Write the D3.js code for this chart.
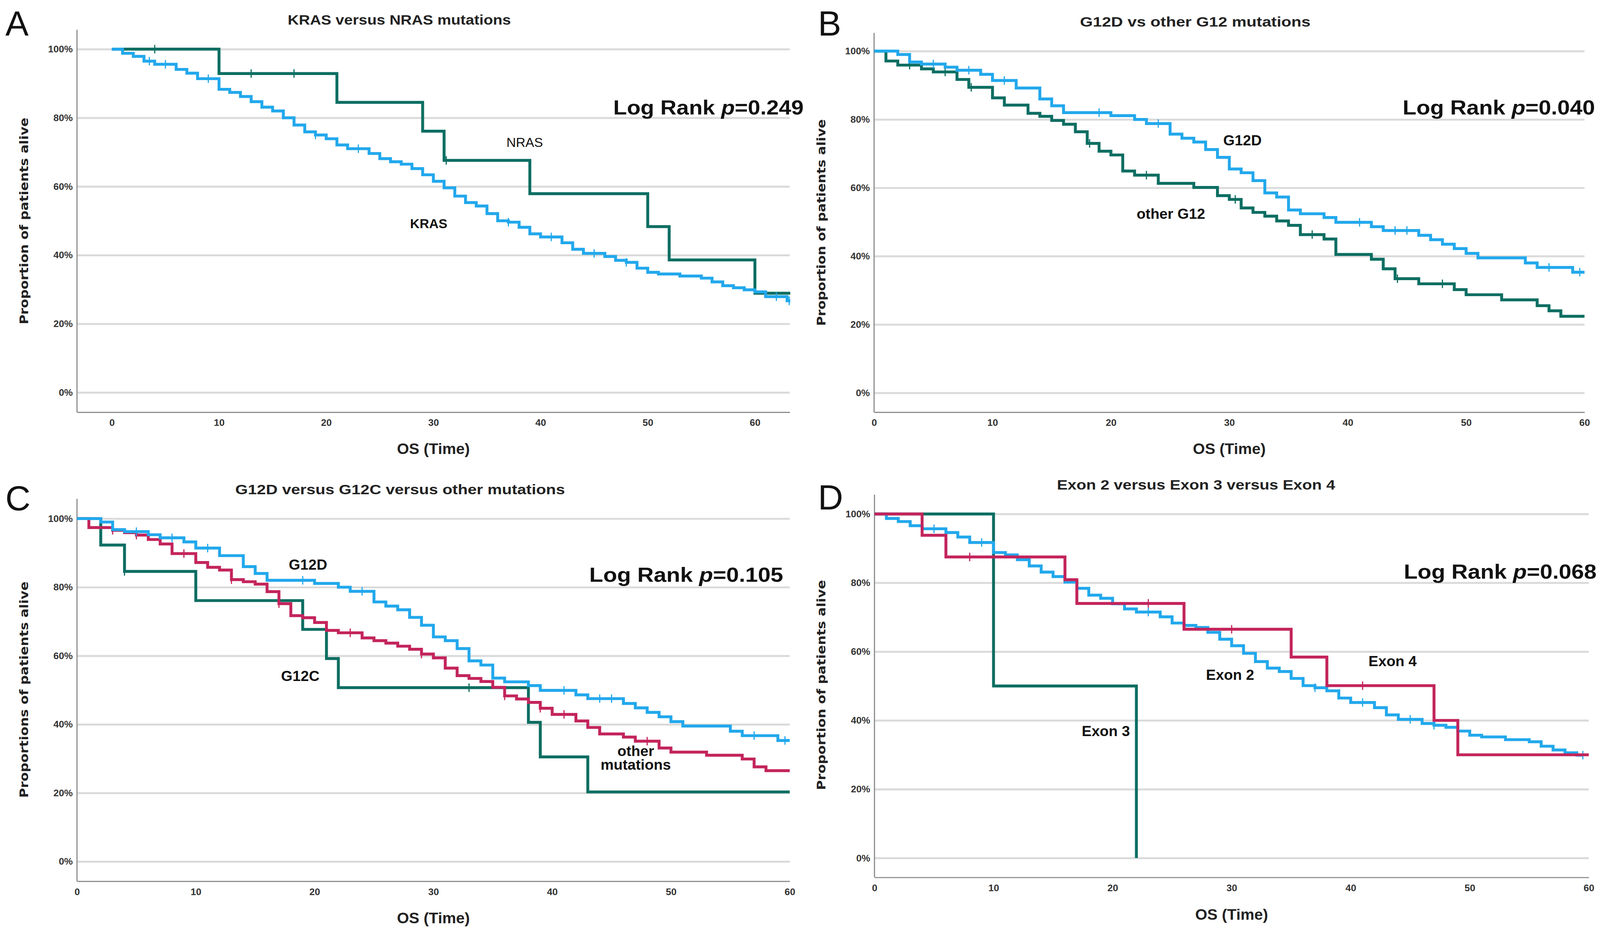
<!DOCTYPE html>
<html>
<head>
<meta charset="utf-8">
<script src="https://cdnjs.cloudflare.com/ajax/libs/d3/7.8.5/d3.min.js"></script>
<style>
html, body { margin: 0; padding: 0; background: #fff; overflow: hidden; }
svg { display: block; width: 100vw; height: 100vh; }
</style>
</head>
<body>
<script>
var width = 4135;
var height = 2411;

// ------- data ------------------------------

var yTicks = [0, 20, 40, 60, 80, 100];
var xTicks = [0, 10, 20, 30, 40, 50, 60];

// panel A
var krasTime = [0,1,2,3,4,6,7,8,10,11,12,13,14,15,16,17,18,19,20,21,22,24,25,26,27,28,29,30,31,32,33,34,35,36,37,38,39,40,42,43,44,46,47,48,49,50,51,53,55,56,57,58,59,60,61,63];
var krasSurv = [100,98.8,97.9,96.5,95.6,94.1,93.0,91.4,88.3,87.4,86.2,84.7,83.1,82.0,80.0,77.9,75.9,75.0,73.9,72.1,71.0,69.6,68.1,67.2,66.5,65.2,63.4,61.5,59.6,57.2,55.3,54.3,52.1,50.0,49.6,48.1,46.2,45.3,43.6,41.7,40.5,39.6,38.5,37.9,36.2,35.0,34.5,33.9,33.3,32.2,31.1,30.5,29.9,29.3,27.9,26.7];
var krasCens = [3.5, 5, 9, 19, 23, 37, 41, 45, 48, 62, 63.2];
var krasEnd = 63.3;

var nrasTime = [0, 10, 21, 29, 31, 39, 50, 52, 60];
var nrasSurv = [100, 92.9, 84.5, 76.1, 67.6, 57.9, 48.3, 38.6, 28.9];
var nrasCens = [4, 13, 17, 31.2];
var nrasEnd = 63.3;

// panel B and C (G12D is the same group in both)
var g12dTime = [0,2,3,4,6,7,9,10,12,14,15,16,20,22,23,25,26,27,28,29,30,31,32,33,34,35,36,38,39,42,43,46,47,48,49,50,51,55,56,59];
var g12dSurv = [100,99.0,96.8,96.2,95.3,94.4,93.2,91.4,89.2,86.0,84.0,82.0,81.1,80.0,78.8,75.7,74.5,73.4,71.2,68.9,65.5,64.4,62.1,58.5,57.3,53.5,52.4,51.3,49.9,48.6,47.5,46.1,44.8,43.5,42.2,40.8,39.5,38.0,36.7,35.3];
var g12dCens = [5, 8, 11, 19, 24, 41, 44, 45, 57, 59.6];
var g12dEnd = 60;

var otherG12Time = [0,1,2,4,5,7,8,10,11,13,14,15,16,17,18,19,20,21,22,24,27,29,30,31,32,33,34,35,36,38,39,42,43,44,46,49,50,53,56,57,58];
var otherG12Surv = [100,97.1,95.9,94.8,93.9,91.7,89.4,86.3,84.2,81.8,80.9,79.7,78.6,76.4,73.0,70.7,69.6,64.9,63.7,61.3,60.1,57.7,56.6,54.1,52.8,51.7,50.3,49.0,46.3,45.0,40.5,39.1,36.3,33.4,31.9,30.2,28.7,27.2,25.5,24.0,22.4];
var otherG12Cens = [3, 6, 8.2, 18.2, 23, 30.5, 37, 44.2, 48];
var otherG12End = 60;

// panel C
var g12cTime = [0, 2, 4, 10, 19, 21, 22, 38, 39, 43];
var g12cSurv = [100, 92.3, 84.6, 76.1, 67.7, 59.2, 50.7, 40.6, 30.5, 20.3];
var g12cCens = [4, 33];
var g12cEnd = 60;

var otherMutTime = [0,1,3,4,5,6,7,8,10,11,12,13,14,15,16,17,18,19,20,21,22,24,25,26,27,28,29,30,31,32,33,34,35,36,37,38,39,40,42,43,44,46,47,49,50,53,56,57,58];
var otherMutSurv = [100,97.4,96.6,95.9,95.2,93.9,92.6,89.8,87.2,85.8,85.0,82.2,81.6,80.9,78.7,75.2,71.7,71.1,69.7,67.4,66.7,65.2,64.4,63.7,62.8,61.9,60.5,59.4,56.4,54.2,53.4,52.5,50.8,48.3,47.4,46.4,44.7,42.9,41.0,39.1,37.2,36.3,35.1,33.1,31.9,31.0,29.9,27.6,26.5];
var otherMutCens = [3, 5, 9, 13, 17, 23, 29, 36, 39, 41, 48];
var otherMutEnd = 60;

// panel D
var exon2Time = [0,1,2,3,4,6,7,8,10,11,12,13,14,15,16,17,18,19,20,21,22,24,25,26,27,28,29,30,31,32,33,34,35,36,37,38,39,40,42,43,44,46,47,48,49,50,51,53,55,56,57,58,59];
var exon2Surv = [100,98.7,97.8,96.6,95.7,94.6,93.3,91.7,88.8,88.1,86.7,84.9,83.1,81.8,80.2,78.4,76.4,75.5,73.9,72.4,71.5,70.1,68.3,67.6,67.0,65.6,63.6,61.7,59.5,57.1,55.2,54.2,52.2,50.1,49.5,48.6,46.5,45.2,43.7,41.6,40.3,39.1,38.6,38.0,36.9,35.7,35.2,34.4,33.8,32.5,31.4,30.6,29.9];
var exon2Cens = [5, 9, 23, 37, 41, 45, 47, 59.5];
var exon2End = 59.5;

var exon3Time = [0, 10, 22];
var exon3Surv = [100, 50, 0];
var exon3Cens = [];
var exon3End = 22;

var exon4Time = [0, 4, 6, 16, 17, 26, 35, 38, 47, 49];
var exon4Surv = [100, 93.8, 87.5, 80.9, 74.0, 66.5, 58.4, 50.1, 40.0, 30.0];
var exon4Cens = [8, 23, 30, 41];
var exon4End = 60;

var blue = '#22a8ec';
var teal = '#0d6e62';
var red = '#c3245c';

// ------- SVG --------

// viewBox so the whole figure always fits the window (pinned to the top)
var svg = d3.select('body')
    .append('svg')
    .attr('viewBox', '0 0 ' + width + ' ' + height)
    .attr('preserveAspectRatio', 'xMidYMin meet')
    .style('font-family', '"Liberation Sans", Arial, sans-serif');

svg.append('rect').attr('width', width).attr('height', height).attr('fill', '#fff');

function series(time, surv, cens, end, color) {
    return { time: time, surv: surv, cens: cens, end: end, color: color };
}

// value of a step function at t
function survAt(s, t) {
    var v = s.surv[0];
    for (var i = 0; i < s.time.length; i++) {
        if (s.time[i] <= t) v = s.surv[i];
    }
    return v;
}

function drawPanel(p) {
    var x = d3.scaleLinear().domain(p.xDomain).range([p.left, p.right]);
    var y = d3.scaleLinear().domain([0, 100]).range([p.y0, p.y100]);
    var g = svg.append('g');

    // gridlines + y tick labels
    var gy = g.append('g')
        .attr('transform', 'translate(' + p.left + ',0)')
        .call(d3.axisLeft(y).tickValues(yTicks)
            .tickSize(-(p.right - p.left)).tickPadding(11)
            .tickFormat(function(d) { return d + '%'; }));
    gy.select('.domain').remove();
    gy.selectAll('.tick line').attr('stroke', '#dadada').attr('stroke-width', 5);
    gy.selectAll('.tick text')
        .attr('font-size', 25).attr('font-weight', 'bold').attr('fill', '#333')
        .style('font-family', '"Liberation Sans Narrow", "Liberation Sans", sans-serif');

    // y axis line
    g.append('line')
        .attr('x1', p.left).attr('x2', p.left)
        .attr('y1', p.top).attr('y2', p.base)
        .attr('stroke', '#8c8c8c').attr('stroke-width', 3);

    // x axis
    var gx = g.append('g')
        .attr('transform', 'translate(0,' + p.base + ')')
        .call(d3.axisBottom(x).tickValues(xTicks).tickSize(0).tickSizeOuter(0).tickPadding(18));
    gx.select('.domain').attr('stroke', '#8c8c8c').attr('stroke-width', 3);
    gx.selectAll('.tick text')
        .attr('font-size', 25).attr('font-weight', 'bold').attr('fill', '#333')
        .style('font-family', '"Liberation Sans Narrow", "Liberation Sans", sans-serif');

    // curves
    var line = d3.line()
        .x(function(d) { return x(d[0]); })
        .y(function(d) { return y(d[1]); })
        .curve(d3.curveStepAfter);

    p.series.forEach(function(s) {
        var pts = s.time.map(function(t, i) { return [t, s.surv[i]]; });
        pts.push([s.end, s.surv[s.surv.length - 1]]);
        g.append('path')
            .attr('d', line(pts))
            .attr('fill', 'none')
            .attr('stroke', s.color)
            .attr('stroke-width', 7.5)
            .attr('stroke-linejoin', 'miter');

        g.selectAll(null)
            .data(s.cens)
            .enter()
            .append('line')
            .attr('x1', function(d) { return x(d); })
            .attr('x2', function(d) { return x(d); })
            .attr('y1', function(d) { return y(survAt(s, d)) - 11; })
            .attr('y2', function(d) { return y(survAt(s, d)) + 11; })
            .attr('stroke', s.color)
            .attr('stroke-width', 3);
    });

    // panel letter
    g.append('text')
        .attr('x', p.letter[0]).attr('y', p.letter[1])
        .attr('font-size', 90)
        .attr('fill', '#111')
        .text(p.letterText);

    // title
    g.append('text')
        .attr('x', p.title[0]).attr('y', p.title[1])
        .attr('text-anchor', 'middle')
        .attr('font-size', 36).attr('font-weight', 'bold').attr('fill', '#222')
        .attr('textLength', p.title[2]).attr('lengthAdjust', 'spacingAndGlyphs')
        .text(p.titleText);

    // log rank
    var lr = g.append('text')
        .attr('x', p.logRank[0]).attr('y', p.logRank[1])
        .attr('font-size', 53).attr('font-weight', 'bold').attr('fill', '#111')
        .attr('textLength', p.logRank[2]).attr('lengthAdjust', 'spacingAndGlyphs');
    lr.append('tspan').text('Log Rank ');
    lr.append('tspan').attr('font-style', 'italic').text('p');
    lr.append('tspan').text('=' + p.pValue);

    // axis titles
    g.append('text')
        .attr('x', p.xTitle[0]).attr('y', p.xTitle[1])
        .attr('text-anchor', 'middle')
        .attr('font-size', 40).attr('font-weight', 'bold').attr('fill', '#222')
        .text('OS (Time)');

    g.append('text')
        .attr('transform', 'translate(' + p.yTitle[0] + ',' + p.yTitle[1] + ') rotate(-90)')
        .attr('text-anchor', 'middle')
        .attr('dominant-baseline', 'central')
        .attr('font-size', 31).attr('font-weight', 'bold').attr('fill', '#222')
        .style('font-family', '"DejaVu Sans", Verdana, sans-serif')
        .attr('textLength', p.yTitle[2]).attr('lengthAdjust', 'spacingAndGlyphs')
        .text(p.yTitleText);

    // curve labels
    p.labels.forEach(function(l) {
        g.append('text')
            .attr('x', l[1]).attr('y', l[2])
            .attr('text-anchor', 'middle')
            .attr('dominant-baseline', 'central')
            .attr('font-size', l[3]).attr('font-weight', l[4]).attr('fill', '#111')
            .text(l[0]);
    });
}

drawPanel({
    left: 199, right: 2041, xDomain: [-3.25, 63.25],
    y100: 127, y0: 1014, top: 77, base: 1065,
    series: [series(nrasTime, nrasSurv, nrasCens, nrasEnd, teal),
             series(krasTime, krasSurv, krasCens, krasEnd, blue)],
    letterText: 'A', letter: [14, 92],
    titleText: 'KRAS versus NRAS mutations', title: [1032, 64, 577],
    logRank: [1585, 296, 492], pValue: '0.249',
    xTitle: [1120, 1173],
    yTitleText: 'Proportion of patients alive', yTitle: [62, 571, 534],
    labels: [['NRAS', 1356, 368, 34, 'normal'], ['KRAS', 1108, 578, 34, 'bold']]
});

drawPanel({
    left: 2259, right: 4095, xDomain: [0, 60],
    y100: 132, y0: 1015, top: 85, base: 1065,
    series: [series(otherG12Time, otherG12Surv, otherG12Cens, otherG12End, teal),
             series(g12dTime, g12dSurv, g12dCens, g12dEnd, blue)],
    letterText: 'B', letter: [2114, 92],
    titleText: 'G12D vs other G12 mutations', title: [3089, 69, 596],
    logRank: [3625, 296, 497], pValue: '0.040',
    xTitle: [3177, 1173],
    yTitleText: 'Proportion of patients alive', yTitle: [2123, 575, 534],
    labels: [['G12D', 3211, 362, 38, 'bold'], ['other G12', 3026, 552, 38, 'bold']]
});

drawPanel({
    left: 199, right: 2041, xDomain: [0, 60],
    y100: 1340, y0: 2226, top: 1289, base: 2277,
    series: [series(g12cTime, g12cSurv, g12cCens, g12cEnd, teal),
             series(otherMutTime, otherMutSurv, otherMutCens, otherMutEnd, red),
             series(g12dTime, g12dSurv, g12dCens, g12dEnd, blue)],
    letterText: 'C', letter: [14, 1318],
    titleText: 'G12D versus G12C versus other mutations', title: [1034, 1277, 852],
    logRank: [1523, 1503, 501], pValue: '0.105',
    xTitle: [1120, 2386],
    yTitleText: 'Proportions of patients alive', yTitle: [62, 1782, 559],
    labels: [['G12D', 796, 1459, 38, 'bold'], ['G12C', 776, 1746, 38, 'bold'],
             ['other', 1643, 1940, 38, 'bold'], ['mutations', 1643, 1976, 38, 'bold']]
});

drawPanel({
    left: 2260, right: 4106, xDomain: [0, 60],
    y100: 1328, y0: 2217, top: 1278, base: 2267,
    series: [series(exon3Time, exon3Surv, exon3Cens, exon3End, teal),
             series(exon2Time, exon2Surv, exon2Cens, exon2End, blue),
             series(exon4Time, exon4Surv, exon4Cens, exon4End, red)],
    letterText: 'D', letter: [2114, 1316],
    titleText: 'Exon 2 versus Exon 3 versus Exon 4', title: [3091, 1265, 719],
    logRank: [3628, 1495, 498], pValue: '0.068',
    xTitle: [3183, 2376],
    yTitleText: 'Proportion of patients alive', yTitle: [2123, 1770, 543],
    labels: [['Exon 4', 3599, 1708, 38, 'bold'], ['Exon 2', 3179, 1743, 38, 'bold'],
             ['Exon 3', 2858, 1889, 38, 'bold']]
});
</script>
</body>
</html>
